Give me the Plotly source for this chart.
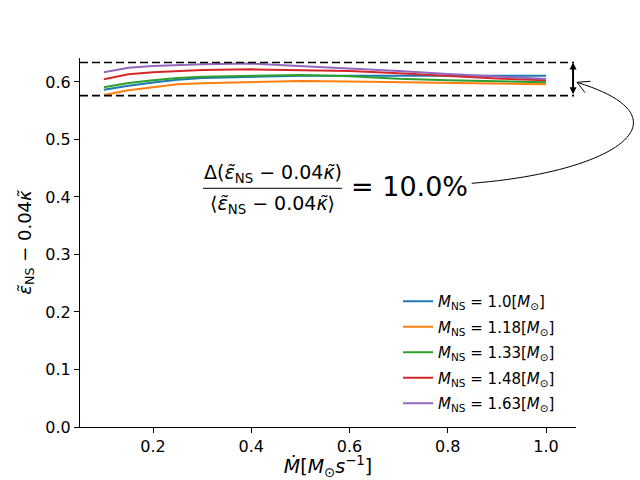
import plotly.graph_objects as go

# ---- data ----
mdot = [0.1, 0.15, 0.2, 0.25, 0.3, 0.4, 0.5, 0.6, 0.7, 0.8, 0.9, 1.0]
eps_m100 = [0.5866, 0.5936, 0.599, 0.604, 0.607, 0.609, 0.611, 0.611, 0.611, 0.611, 0.611, 0.611]
eps_m118 = [0.5774, 0.5855, 0.591, 0.596, 0.598, 0.6005, 0.6017, 0.601, 0.5995, 0.598, 0.597, 0.596]
eps_m133 = [0.5908, 0.5983, 0.603, 0.607, 0.609, 0.611, 0.6122, 0.610, 0.6055, 0.603, 0.601, 0.5995]
eps_m148 = [0.6047, 0.6134, 0.617, 0.6195, 0.621, 0.622, 0.621, 0.619, 0.615, 0.610, 0.606, 0.603]
eps_m163 = [0.6168, 0.6249, 0.628, 0.630, 0.631, 0.632, 0.628, 0.624, 0.619, 0.614, 0.609, 0.605]
series = [eps_m100, eps_m118, eps_m133, eps_m148, eps_m163]
masses = ["1.0", "1.18", "1.33", "1.48", "1.63"]
colors = ["#1f77b4", "#ff7f0e", "#2ca02c", "#d62728", "#9467bd"]
band_hi = 0.634
band_lo = 0.5762
band_x_end = 1.055
x_ticks = [0.2, 0.4, 0.6, 0.8, 1.0]
y_ticks = [0.0, 0.1, 0.2, 0.3, 0.4, 0.5, 0.6]
ratio_label = "10.0%"

FONT = "DejaVu Sans"
W, H = 640, 480
AX_L, AX_R, AX_T, AX_B = 80, 576, 58, 427


def px(x):
    return (x - AX_L) / (AX_R - AX_L)


def py(y):
    return (AX_B - y) / (AX_B - AX_T)


fig = go.Figure()
for i, (m, ys, c) in enumerate(zip(masses, series, colors)):
    fig.add_trace(go.Scatter(
        x=mdot, y=ys, mode="lines", line=dict(color=c, width=2),
        legendgroup=f"g{i}",
        name=f"<i>M</i><sub>NS</sub> = {m}[<i>M</i><sub>⊙</sub>]",
    ))

shapes = []
# dashed band
for yv in (band_hi, band_lo):
    shapes.append(dict(type="line", xref="paper", yref="y", x0=0, x1=px(574),
                       y0=yv, y1=yv, line=dict(color="black", width=1.6, dash="8px,4px")))
# fraction bar
shapes.append(dict(type="line", xref="paper", yref="paper", x0=px(203), x1=px(342),
                   y0=py(188.3), y1=py(188.3), line=dict(color="black", width=1)))
# curved connector
P0 = (471.7, 183.3); P1 = (621.7, 171.3); P2 = (690.0, 117.0); P3 = (577.5, 82.5)
path = "M {},{} C {},{} {},{} {},{}".format(px(P0[0]), py(P0[1]), px(P1[0]), py(P1[1]),
                                             px(P2[0]), py(P2[1]), px(P3[0]), py(P3[1]))
shapes.append(dict(type="path", xref="paper", yref="paper", path=path,
                   line=dict(color="black", width=1)))
tip = (577, 82.3)
head = "M {},{} L {},{} M {},{} L {},{}".format(px(590.5), py(81.3), px(tip[0]), py(tip[1]),
                                               px(tip[0]), py(tip[1]), px(585), py(92.5))
shapes.append(dict(type="path", xref="paper", yref="paper", path=head,
                   line=dict(color="black", width=1)))

annotations = [
    dict(xref="x", yref="y", axref="x", ayref="y", x=band_x_end, y=band_hi,
         ax=band_x_end, ay=band_lo, text="", showarrow=True, arrowside="end+start",
         arrowhead=2, startarrowhead=2, arrowsize=0.7, startarrowsize=0.7,
         arrowwidth=2, arrowcolor="black", standoff=0, startstandoff=0),
    dict(xref="paper", yref="paper", x=px(272.5), y=py(173), xanchor="center", yanchor="middle",
         text="Δ(<i>ε̃</i><sub>NS</sub> − 0.04<i>κ̃</i>)", showarrow=False,
         font=dict(family=FONT, size=19, color="black")),
    dict(xref="paper", yref="paper", x=px(272.5), y=py(204), xanchor="center", yanchor="middle",
         text="⟨<i>ε̃</i><sub>NS</sub> − 0.04<i>κ̃</i>⟩", showarrow=False,
         font=dict(family=FONT, size=19, color="black")),
    dict(xref="paper", yref="paper", x=px(349), y=py(186.5), xanchor="left", yanchor="middle",
         text="= " + ratio_label, showarrow=False,
         font=dict(family=FONT, size=27, color="black")),
]

fig.update_layout(
    width=W, height=H,
    margin=dict(l=AX_L, r=W - AX_R, t=AX_T, b=H - AX_B, pad=0, autoexpand=False),
    paper_bgcolor="white", plot_bgcolor="white",
    font=dict(family=FONT, size=16, color="black"),
    shapes=shapes, annotations=annotations,
    showlegend=True,
    legend=dict(x=px(398), y=py(285), xanchor="left", yanchor="top",
                bgcolor="rgba(255,255,255,0)", font=dict(family=FONT, size=15),
                tracegroupgap=3, itemwidth=30),
    xaxis=dict(range=[0.0514, 1.061], tickvals=x_ticks, tickformat=".1f",
               showgrid=False, zeroline=False, showline=True, linecolor="black", linewidth=1,
               ticks="outside", ticklen=5, tickwidth=1, tickcolor="black",
               tickfont=dict(size=16),
               title=dict(text="<i>Ṁ</i>[<i>M</i><sub>⊙</sub><i>s</i><sup>−1</sup>]",
                          font=dict(size=19), standoff=5)),
    yaxis=dict(range=[0, 0.6417], tickvals=y_ticks, tickformat=".1f",
               showgrid=False, zeroline=False, showline=True, linecolor="black", linewidth=1,
               ticks="outside", ticklen=5, tickwidth=1, tickcolor="black",
               tickfont=dict(size=16),
               title=dict(text="<i>ε̃</i><sub>NS</sub> − 0.04<i>κ̃</i>",
                          font=dict(size=18), standoff=9)),
)

fig.write_html("out.html", config={"displayModeBar": False},
               post_script="document.body.style.margin='0';document.body.style.padding='0';")
